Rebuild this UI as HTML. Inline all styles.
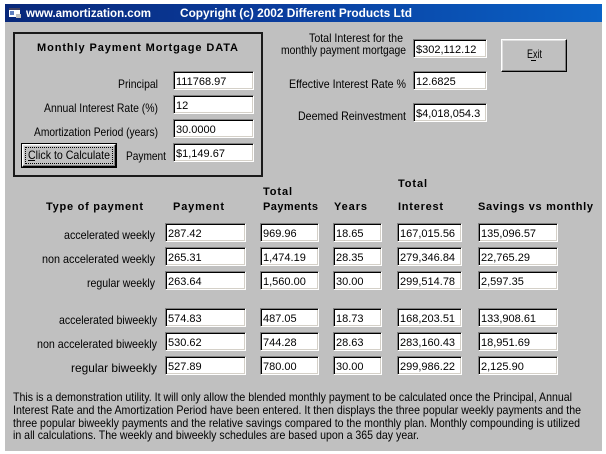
<!DOCTYPE html>
<html>
<head>
<meta charset="utf-8">
<style>
  html,body{margin:0;padding:0;}
  body{width:606px;height:454px;background:#fff;position:relative;overflow:hidden;font-family:"Liberation Sans",Arial,sans-serif;}
  .abs{position:absolute;box-sizing:border-box;}
  .win{left:5px;top:4px;width:597px;height:447px;background:#c0c0c0;}
  .title{left:5px;top:4px;width:597px;height:18px;background:linear-gradient(90deg,#08287a 0%,#0a3c9c 45%,#0a62c6 100%);}
  .tb{background:#fff;border-top:1px solid #808080;border-left:1px solid #808080;border-bottom:1px solid #fff;border-right:1px solid #fff;box-shadow:inset 1px 1px 0 #000, inset -1px -1px 0 #d4d0c8;height:19px;}
  .btn{background:#c0c0c0;border-top:1px solid #fff;border-left:1px solid #fff;border-right:1px solid #000;border-bottom:1px solid #000;box-shadow:inset -1px -1px 0 #808080, inset 1px 1px 0 #dfdfdf;}
  .frame{left:13px;top:32px;width:250px;height:145px;border:2px solid #1a1a1a;}
  svg{position:absolute;left:0;top:0;}
  .lbl{font-size:12px;fill:#000;}
  .hdr{font-size:11px;font-weight:bold;fill:#000;}
  .num{font-size:11px;fill:#000;}
  .tt{font-size:12px;font-weight:bold;fill:#fff;}
</style>
</head>
<body>
<div class="abs win"></div>
<div class="abs title"></div>

<!-- group frame -->
<div class="abs frame"></div>

<!-- group boxes -->
<div class="abs tb" style="left:173px;top:71px;width:81px;"></div>
<div class="abs tb" style="left:173px;top:95px;width:81px;"></div>
<div class="abs tb" style="left:173px;top:119px;width:81px;"></div>
<div class="abs tb" style="left:173px;top:143px;width:81px;"></div>

<!-- calculate default button -->
<div class="abs" style="left:21px;top:143px;width:96px;height:25px;border:1px solid #000;"></div>
<div class="abs btn" style="left:22px;top:144px;width:94px;height:23px;"></div>
<div class="abs" style="left:25px;top:147px;width:88px;height:17px;border:1px dotted #000;"></div>

<!-- right upper boxes -->
<div class="abs tb" style="left:413px;top:39px;width:74px;"></div>
<div class="abs tb" style="left:413px;top:71px;width:74px;"></div>
<div class="abs tb" style="left:413px;top:103px;width:74px;"></div>

<!-- exit button -->
<div class="abs btn" style="left:501px;top:39px;width:66px;height:33px;"></div>

<!-- table boxes -->
<div class="abs tb" style="left:165px;top:223px;width:81px;"></div>
<div class="abs tb" style="left:260px;top:223px;width:59px;"></div>
<div class="abs tb" style="left:333px;top:223px;width:49px;"></div>
<div class="abs tb" style="left:397px;top:223px;width:65px;"></div>
<div class="abs tb" style="left:478px;top:223px;width:80px;"></div>

<div class="abs tb" style="left:165px;top:247px;width:81px;"></div>
<div class="abs tb" style="left:260px;top:247px;width:59px;"></div>
<div class="abs tb" style="left:333px;top:247px;width:49px;"></div>
<div class="abs tb" style="left:397px;top:247px;width:65px;"></div>
<div class="abs tb" style="left:478px;top:247px;width:80px;"></div>

<div class="abs tb" style="left:165px;top:271px;width:81px;"></div>
<div class="abs tb" style="left:260px;top:271px;width:59px;"></div>
<div class="abs tb" style="left:333px;top:271px;width:49px;"></div>
<div class="abs tb" style="left:397px;top:271px;width:65px;"></div>
<div class="abs tb" style="left:478px;top:271px;width:80px;"></div>

<div class="abs tb" style="left:165px;top:308px;width:81px;"></div>
<div class="abs tb" style="left:260px;top:308px;width:59px;"></div>
<div class="abs tb" style="left:333px;top:308px;width:49px;"></div>
<div class="abs tb" style="left:397px;top:308px;width:65px;"></div>
<div class="abs tb" style="left:478px;top:308px;width:80px;"></div>

<div class="abs tb" style="left:165px;top:332px;width:81px;"></div>
<div class="abs tb" style="left:260px;top:332px;width:59px;"></div>
<div class="abs tb" style="left:333px;top:332px;width:49px;"></div>
<div class="abs tb" style="left:397px;top:332px;width:65px;"></div>
<div class="abs tb" style="left:478px;top:332px;width:80px;"></div>

<div class="abs tb" style="left:165px;top:356px;width:81px;"></div>
<div class="abs tb" style="left:260px;top:356px;width:59px;"></div>
<div class="abs tb" style="left:333px;top:356px;width:49px;"></div>
<div class="abs tb" style="left:397px;top:356px;width:65px;"></div>
<div class="abs tb" style="left:478px;top:356px;width:80px;"></div>

<svg width="606" height="454" viewBox="0 0 606 454" font-family="'Liberation Sans', Arial, sans-serif">
  <!-- title bar icon -->
  <rect x="9" y="8" width="11" height="9" fill="#ffffff"/>
  <rect x="9" y="8" width="11" height="2" fill="#404060"/>
  <rect x="10" y="11" width="4" height="4" fill="#6080c0"/>
  <rect x="16" y="14" width="5" height="4" fill="#c0c0c0"/>
  <!-- title bar text -->
  <text class="tt" x="26" y="17" textLength="125" lengthAdjust="spacingAndGlyphs">www.amortization.com</text>
  <text class="tt" x="180" y="17" textLength="232" lengthAdjust="spacingAndGlyphs">Copyright (c) 2002 Different Products Ltd</text>

  <!-- group -->
  <text class="hdr" x="37" y="51" textLength="201" lengthAdjust="spacing">Monthly Payment Mortgage DATA</text>
  <text class="lbl" x="118" y="88" textLength="40" lengthAdjust="spacingAndGlyphs">Principal</text>
  <text class="lbl" x="44" y="112" textLength="114" lengthAdjust="spacingAndGlyphs">Annual Interest Rate (%)</text>
  <text class="lbl" x="34" y="136" textLength="124" lengthAdjust="spacingAndGlyphs">Amortization Period (years)</text>
  <text class="lbl" x="126" y="160" textLength="40" lengthAdjust="spacingAndGlyphs">Payment</text>
  <text class="lbl" x="28" y="159" textLength="82" lengthAdjust="spacingAndGlyphs">Click to Calculate</text>
  <rect x="28" y="160" width="7" height="1" fill="#000"/>

  <text class="num" x="176" y="85">111768.97</text>
  <text class="num" x="176" y="109">12</text>
  <text class="num" x="176" y="133">30.0000</text>
  <text class="num" x="176" y="157">$1,149.67</text>

  <!-- right upper -->
  <text class="lbl" x="309" y="42" textLength="94" lengthAdjust="spacingAndGlyphs">Total Interest for the</text>
  <text class="lbl" x="281" y="54" textLength="125" lengthAdjust="spacingAndGlyphs">monthly payment mortgage</text>
  <text class="lbl" x="289" y="88" textLength="117" lengthAdjust="spacingAndGlyphs">Effective Interest Rate %</text>
  <text class="lbl" x="298" y="120" textLength="108" lengthAdjust="spacingAndGlyphs">Deemed Reinvestment</text>
  <text class="num" x="416" y="53">$302,112.12</text>
  <text class="num" x="416" y="85">12.6825</text>
  <text class="num" x="416" y="117">$4,018,054.3</text>
  <text class="lbl" x="527" y="58" textLength="15" lengthAdjust="spacingAndGlyphs">Exit</text>
  <rect x="531" y="60" width="5" height="1" fill="#000"/>

  <!-- table headers -->
  <text class="hdr" x="46" y="210" textLength="97" lengthAdjust="spacing">Type of payment</text>
  <text class="hdr" x="173" y="210" textLength="51" lengthAdjust="spacing">Payment</text>
  <text class="hdr" x="263" y="195" textLength="29" lengthAdjust="spacing">Total</text>
  <text class="hdr" x="263" y="210" textLength="55" lengthAdjust="spacing">Payments</text>
  <text class="hdr" x="334" y="210" textLength="33" lengthAdjust="spacing">Years</text>
  <text class="hdr" x="398" y="187" textLength="29" lengthAdjust="spacing">Total</text>
  <text class="hdr" x="398" y="210" textLength="45" lengthAdjust="spacing">Interest</text>
  <text class="hdr" x="478" y="210" textLength="115" lengthAdjust="spacing">Savings vs monthly</text>

  <!-- row labels -->
  <text class="lbl" x="64" y="239" textLength="91" lengthAdjust="spacingAndGlyphs">accelerated weekly</text>
  <text class="lbl" x="42" y="263" textLength="113" lengthAdjust="spacingAndGlyphs">non accelerated weekly</text>
  <text class="lbl" x="87" y="287" textLength="68" lengthAdjust="spacingAndGlyphs">regular weekly</text>
  <text class="lbl" x="59" y="324" textLength="98" lengthAdjust="spacingAndGlyphs">accelerated biweekly</text>
  <text class="lbl" x="37" y="348" textLength="120" lengthAdjust="spacingAndGlyphs">non accelerated biweekly</text>
  <text class="lbl" x="71" y="372" textLength="86" lengthAdjust="spacingAndGlyphs">regular biweekly</text>

  <!-- row 1 -->
  <text class="num" x="168" y="237">287.42</text>
  <text class="num" x="263" y="237">969.96</text>
  <text class="num" x="336" y="237">18.65</text>
  <text class="num" x="400" y="237">167,015.56</text>
  <text class="num" x="481" y="237">135,096.57</text>
  <!-- row 2 -->
  <text class="num" x="168" y="261">265.31</text>
  <text class="num" x="263" y="261">1,474.19</text>
  <text class="num" x="336" y="261">28.35</text>
  <text class="num" x="400" y="261">279,346.84</text>
  <text class="num" x="481" y="261">22,765.29</text>
  <!-- row 3 -->
  <text class="num" x="168" y="285">263.64</text>
  <text class="num" x="263" y="285">1,560.00</text>
  <text class="num" x="336" y="285">30.00</text>
  <text class="num" x="400" y="285">299,514.78</text>
  <text class="num" x="481" y="285">2,597.35</text>
  <!-- row 4 -->
  <text class="num" x="168" y="322">574.83</text>
  <text class="num" x="263" y="322">487.05</text>
  <text class="num" x="336" y="322">18.73</text>
  <text class="num" x="400" y="322">168,203.51</text>
  <text class="num" x="481" y="322">133,908.61</text>
  <!-- row 5 -->
  <text class="num" x="168" y="346">530.62</text>
  <text class="num" x="263" y="346">744.28</text>
  <text class="num" x="336" y="346">28.63</text>
  <text class="num" x="400" y="346">283,160.43</text>
  <text class="num" x="481" y="346">18,951.69</text>
  <!-- row 6 -->
  <text class="num" x="168" y="370">527.89</text>
  <text class="num" x="263" y="370">780.00</text>
  <text class="num" x="336" y="370">30.00</text>
  <text class="num" x="400" y="370">299,986.22</text>
  <text class="num" x="481" y="370">2,125.90</text>

  <!-- paragraph -->
  <text class="lbl" x="13" y="401" textLength="559" lengthAdjust="spacingAndGlyphs">This is a demonstration utility. It will only allow the blended monthly payment to be calculated once the Principal, Annual</text>
  <text class="lbl" x="13" y="414" textLength="568" lengthAdjust="spacingAndGlyphs">Interest Rate and the Amortization Period have been entered. It then displays the three popular weekly payments and the</text>
  <text class="lbl" x="13" y="427" textLength="567" lengthAdjust="spacingAndGlyphs">three popular biweekly payments and the relative savings compared to the monthly plan. Monthly compounding is utilized</text>
  <text class="lbl" x="13" y="439" textLength="406" lengthAdjust="spacingAndGlyphs">in all calculations. The weekly and biweekly schedules are based upon a 365 day year.</text>
</svg>
</body>
</html>
